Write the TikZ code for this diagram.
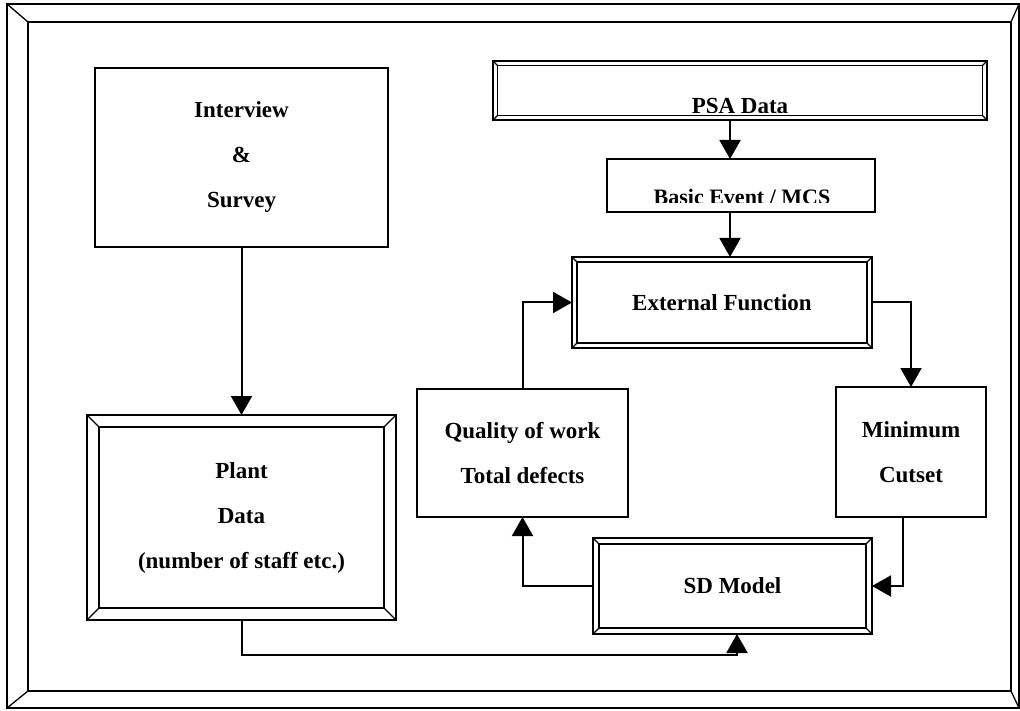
\documentclass[tikz,border=0pt]{standalone}
\usepackage{fontspec}
\setmainfont{Liberation Serif}
\usetikzlibrary{arrows.meta,calc}

\newcommand\boxfont{\fontsize{23}{45}\selectfont\bfseries}
\tikzset{
  box/.style={draw, line width=2pt, inner sep=0pt, outer sep=0pt,
              align=center, font=\boxfont},
  flow/.style={line width=2pt, -{Triangle[width=21pt,length=19pt]}},
  rim/.style={line width=2pt},
  innerrim/.style={line width=1.6pt},
}
% inner rectangle and corner diagonals of a bevelled frame around node #1
\newcommand\bevel[2]{%
  \draw[innerrim] ($(#1.south west)+(#2,#2)$) rectangle ($(#1.north east)-(#2,#2)$);
  \draw[line width=1.2pt]
    (#1.south west) -- ($(#1.south west)+(#2,#2)$)
    (#1.south east) -- ($(#1.south east)+(-#2,#2)$)
    (#1.north west) -- ($(#1.north west)+(#2,-#2)$)
    (#1.north east) -- ($(#1.north east)+(-#2,-#2)$);
}

\begin{document}
\begin{tikzpicture}[x=1pt,y=-1pt]
\useasboundingbox (0,0) rectangle (1020,711);

% outer page frame
\draw[rim] (7,4) rectangle (1019,708);
\draw[rim] (28,22) rectangle (1011,691);
\draw[line width=1.3pt] (7,4) -- (28,22) (1019,4) -- (1011,22)
  (7,708) -- (28,691) (1019,708) -- (1011,691);

% boxes
\node[box, minimum width=293pt, minimum height=179pt] (interview) at (241.5,157.5)
  {Interview\\\&\\Survey};
\node[box, minimum width=309pt, minimum height=205pt] (plant) at (241.5,517.5)
  {Plant\\Data\\(number of staff etc.)};
\bevel{plant}{12pt}

\node[box, minimum width=494pt, minimum height=59pt] (psa) at (740,90.5) {};
\bevel{psa}{4.5pt}
\begin{scope}
  \clip (495,60) rectangle (985,112.5);
  \node[font=\boxfont, anchor=base, inner sep=0pt] (psatext) at (740,114) {PSA Data};
\end{scope}

\node[box, minimum width=268pt, minimum height=53pt] (basic) at (741,185.5) {};
\begin{scope}
  \clip (609,160) rectangle (873,203);
  \node[font=\fontsize{22}{26}\selectfont\bfseries, anchor=base, inner sep=0pt]
    (basictext) at (742,205) {Basic Event / MCS};
\end{scope}

\node[box, minimum width=300pt, minimum height=91pt] (ef) at (722,302.5)
  {External Function};
\bevel{ef}{5pt}

\node[box, minimum width=211pt, minimum height=128pt] (quality) at (522.5,453)
  {Quality of work\\Total defects};
\node[box, minimum width=150pt, minimum height=130pt] (minimum) at (911,452)
  {Minimum\\Cutset};

\node[box, minimum width=279pt, minimum height=96pt] (sd) at (732.5,586)
  {SD Model};
\bevel{sd}{6pt}

% connectors
\coordinate (colx) at (730,0);
\coordinate (mx) at (903,0);
\coordinate (sdx) at (737,0);
\draw[flow] (interview) -- (plant);
\draw[flow] (plant.south) -- ++(0,35) -| (sd.south -| sdx);
\draw[flow] (psa.south -| colx) -- (basic.north -| colx);
\draw[flow] (basic.south -| colx) -- (ef.north -| colx);
\draw[flow] (ef.east) -| (minimum.north);
\draw[flow] (minimum.south -| mx) |- (sd.east);
\draw[flow] (sd.west) -| (quality.south);
\draw[flow] (quality.north) |- (ef.west);
\end{tikzpicture}
\end{document}
